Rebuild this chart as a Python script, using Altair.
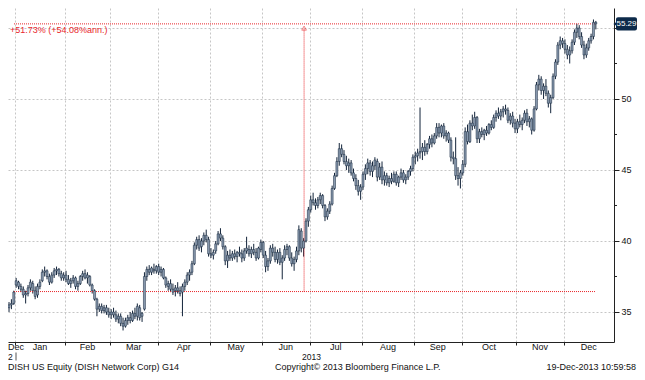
import altair as alt
import pandas as pd

# ---------------- data ----------------
# bars per month shown: Dec-2012 (last 4 sessions), Jan..Dec 2013 (to 19-Dec)
month_names = ["Jan", "Feb", "Mar", "Apr", "May", "Jun", "Jul", "Aug", "Sep", "Oct", "Nov", "Dec"]
month_trading_days = [21, 19, 20, 22, 22, 20, 22, 22, 20, 23, 20, 21]
first_bar_index = -4

opens = [
    35.6, 35.3, 35.5, 35.6,
    36.9, 37.1, 36.8, 36.6, 36.2, 36.3, 36.7, 37.0, 36.5, 36.2, 36.8, 37.2, 37.8, 37.9, 37.5, 37.1, 37.6, 37.9, 38.0, 37.7, 37.4,
    37.6, 37.3, 37.0, 37.2, 37.4, 36.8, 37.0, 37.5, 37.7, 37.4, 37.5, 36.9, 36.5, 35.9, 35.2, 35.4, 35.1, 35.3, 35.0,
    34.8, 35.0, 34.8, 34.5, 34.7, 34.2, 34.0, 34.4, 34.6, 34.4, 34.9, 34.7, 35.3, 34.7, 35.2, 37.5, 38.0, 37.8, 38.0, 37.9,
    38.2, 37.8, 38.0, 37.4, 36.8, 37.0, 36.6, 36.5, 36.7, 36.5, 36.4, 36.8, 37.1, 37.6, 37.8, 38.4, 39.7, 40.1, 39.6, 40.0, 40.4, 40.1,
    39.1, 39.0, 39.3, 39.8, 40.5, 40.2, 39.6, 38.6, 39.0, 38.8, 39.1, 38.9, 39.2, 39.1, 38.8, 39.3, 39.4, 39.1, 39.4, 39.2, 38.8, 39.4,
    39.9, 39.0, 38.2, 38.6, 39.5, 39.2, 38.7, 39.2, 38.5, 38.8, 39.4, 39.6, 38.8, 38.4, 38.7, 39.3, 40.7, 39.5, 40.0, 41.4,
    42.2, 42.9, 42.7, 42.5, 42.9, 43.2, 42.5, 41.7, 42.1, 42.6, 43.7, 44.6, 45.6, 46.5, 46.1, 45.6, 45.3, 45.5, 44.8, 44.4, 43.9, 43.5,
    43.8, 44.7, 45.1, 45.5, 44.9, 45.3, 45.6, 44.5, 45.2, 44.3, 44.6, 44.1, 44.4, 44.2, 44.7, 44.1, 44.5, 44.8, 44.3, 44.5, 44.9, 45.1,
    45.9, 46.0, 46.2, 46.3, 46.6, 46.3, 46.8, 47.2, 46.9, 47.4, 48.0, 47.6, 48.1, 47.4, 47.6, 47.1, 45.9, 45.8, 44.6, 44.4,
    44.8, 45.4, 47.7, 47.0, 48.3, 48.1, 48.7, 47.2, 47.7, 47.5, 47.8, 47.6, 48.2, 48.0, 48.7, 49.0, 48.8, 49.1, 49.3, 49.2, 48.5, 48.8, 48.3,
    47.9, 48.4, 48.2, 48.5, 49.0, 48.4, 48.6, 47.8, 49.3, 51.0, 51.4, 50.6, 50.9, 50.4, 49.7, 50.1, 51.6, 52.6, 53.8, 54.1,
    53.9, 53.5, 53.1, 53.4, 54.0, 54.7, 55.0, 54.4, 53.8, 53.1, 53.6, 54.1, 54.4, 55.4,
]
highs = [
    35.8, 35.7, 35.9, 36.5,
    37.4, 37.2, 37.0, 36.8, 36.5, 36.9, 37.3, 37.2, 36.8, 37.0, 37.3, 38.0, 38.2, 38.0, 37.7, 37.8, 38.1, 38.2, 38.1, 37.9, 37.8,
    37.9, 37.6, 37.4, 37.6, 37.5, 37.2, 37.6, 37.9, 38.0, 37.8, 37.6, 37.0, 36.6, 36.0, 35.6, 35.6, 35.5, 35.5, 35.3,
    35.2, 35.3, 35.1, 34.9, 34.9, 34.6, 34.6, 34.8, 35.0, 35.1, 35.3, 35.6, 35.5, 35.0, 37.8, 38.2, 38.3, 38.2, 38.4, 38.3,
    38.4, 38.2, 38.1, 37.5, 37.2, 37.3, 37.0, 36.9, 37.1, 36.8, 37.0, 37.3, 37.8, 38.0, 38.6, 39.9, 40.3, 40.4, 40.2, 40.6, 40.8, 40.3,
    39.5, 39.4, 40.0, 40.7, 40.9, 40.4, 39.7, 39.3, 39.4, 39.3, 39.4, 39.3, 39.6, 39.4, 39.5, 40.3, 39.7, 39.6, 39.8, 39.5, 39.6, 40.1,
    40.0, 39.3, 38.8, 39.7, 39.8, 39.6, 39.4, 39.5, 39.0, 39.7, 39.8, 39.7, 39.2, 38.9, 39.6, 41.1, 40.9, 40.2, 41.6, 42.4,
    43.2, 43.4, 43.0, 43.1, 43.4, 43.3, 42.6, 42.3, 42.8, 43.9, 44.8, 45.9, 46.9, 46.8, 46.4, 46.0, 45.8, 45.7, 45.1, 44.7, 44.3, 44.0,
    44.9, 45.4, 45.8, 45.7, 45.6, 45.9, 45.8, 45.5, 45.6, 44.9, 44.8, 44.6, 44.8, 44.9, 44.9, 44.6, 45.1, 45.0, 44.7, 45.0, 45.3, 46.1,
    46.3, 46.5, 49.4, 46.9, 47.1, 46.9, 47.4, 47.5, 47.6, 48.3, 48.3, 48.2, 48.3, 47.8, 47.7, 47.3, 46.3, 47.3, 45.2, 45.0,
    45.7, 48.0, 48.2, 48.5, 48.9, 49.1, 48.8, 47.9, 48.0, 47.9, 48.1, 48.3, 48.5, 48.9, 49.2, 49.4, 49.3, 49.5, 49.6, 49.4, 49.0, 49.1, 48.6,
    48.6, 48.9, 48.7, 49.2, 49.3, 48.8, 48.7, 49.5, 51.2, 51.7, 51.6, 51.1, 51.4, 50.6, 50.3, 51.8, 52.8, 54.0, 54.4, 54.3,
    54.2, 53.8, 53.7, 54.2, 54.9, 55.3, 55.2, 54.7, 54.1, 53.9, 54.3, 54.6, 55.6, 55.5,
]
lows = [
    35.1, 35.0, 35.2, 35.5,
    36.7, 36.6, 36.4, 36.0, 35.6, 36.1, 36.5, 36.3, 35.9, 36.0, 36.6, 37.1, 37.5, 37.3, 36.9, 37.0, 37.4, 37.6, 37.5, 37.2, 37.2,
    37.1, 36.9, 36.7, 37.0, 36.6, 36.5, 36.9, 37.2, 37.3, 37.0, 36.8, 36.3, 35.8, 34.7, 35.0, 34.9, 34.9, 34.8, 34.6,
    34.5, 34.6, 34.3, 34.2, 34.0, 33.7, 33.9, 34.1, 34.2, 34.3, 34.5, 34.4, 34.4, 34.3, 35.1, 37.2, 37.6, 37.6, 37.7, 37.7,
    37.6, 37.5, 37.3, 36.7, 36.5, 36.4, 36.2, 36.1, 36.3, 36.1, 34.7, 36.5, 36.9, 37.2, 37.6, 38.3, 39.4, 39.3, 39.2, 39.7, 39.9, 38.9,
    38.8, 38.7, 39.1, 39.7, 40.0, 39.4, 38.3, 38.1, 38.6, 38.6, 38.7, 38.5, 38.9, 38.5, 38.6, 39.1, 38.9, 38.8, 39.0, 38.6, 38.7, 39.2,
    38.8, 37.8, 37.9, 38.4, 38.9, 38.5, 38.4, 38.3, 37.3, 38.6, 39.0, 38.6, 38.2, 37.9, 38.5, 39.0, 39.2, 38.9, 39.9, 41.0,
    42.0, 42.5, 42.2, 42.3, 42.6, 42.3, 41.4, 41.5, 41.9, 42.5, 43.6, 44.5, 45.3, 45.9, 45.4, 45.0, 44.8, 44.6, 44.2, 43.6, 43.2, 42.9,
    43.6, 44.3, 44.7, 44.6, 44.5, 45.0, 44.2, 44.3, 44.0, 43.9, 43.9, 43.8, 44.0, 44.1, 43.9, 43.8, 44.3, 44.1, 44.0, 44.3, 44.6, 44.9,
    45.4, 45.6, 45.8, 45.7, 46.0, 46.1, 46.5, 46.6, 46.8, 47.2, 47.3, 47.3, 47.2, 47.0, 46.9, 45.6, 45.4, 44.3, 43.9, 43.7,
    44.6, 45.2, 46.8, 46.9, 47.8, 47.9, 46.9, 46.9, 47.3, 47.1, 47.4, 47.5, 47.8, 47.9, 48.4, 48.6, 48.5, 48.7, 48.9, 48.3, 48.2, 48.0, 47.6,
    47.6, 48.0, 47.8, 48.3, 48.1, 48.0, 47.5, 47.7, 49.2, 50.6, 50.3, 50.0, 50.2, 49.4, 49.0, 50.0, 51.4, 52.4, 53.5, 53.6,
    53.2, 52.8, 52.5, 53.2, 53.8, 54.3, 54.2, 53.6, 52.8, 52.9, 53.4, 53.9, 54.2, 54.9,
]
closes = [
    35.3, 35.5, 35.6, 36.4,
    37.2, 36.8, 36.6, 36.2, 36.3, 36.7, 37.1, 36.5, 36.1, 36.8, 37.1, 37.8, 37.9, 37.5, 37.1, 37.6, 37.9, 38.0, 37.7, 37.4, 37.6,
    37.3, 37.0, 37.2, 37.4, 36.8, 37.0, 37.5, 37.7, 37.4, 37.6, 36.9, 36.5, 35.9, 35.2, 35.4, 35.1, 35.3, 35.0, 34.8,
    35.0, 34.8, 34.5, 34.7, 34.2, 34.0, 34.4, 34.6, 34.4, 34.9, 34.7, 35.4, 34.6, 34.9, 37.5, 38.0, 37.8, 38.1, 37.9, 38.2,
    37.8, 38.0, 37.4, 36.9, 37.0, 36.6, 36.4, 36.7, 36.5, 36.3, 36.8, 37.1, 37.6, 37.8, 38.4, 39.7, 40.1, 39.5, 40.0, 40.4, 40.1, 39.1,
    39.0, 39.2, 39.8, 40.5, 40.2, 39.6, 38.6, 39.0, 38.8, 39.1, 38.9, 39.2, 39.1, 38.8, 39.3, 39.5, 39.1, 39.4, 39.2, 38.8, 39.5, 39.9,
    39.0, 38.2, 38.6, 39.5, 39.2, 38.7, 39.2, 38.5, 38.8, 39.4, 39.6, 38.8, 38.4, 38.7, 39.3, 40.8, 39.5, 40.0, 41.4, 42.2,
    42.9, 42.7, 42.5, 42.9, 43.2, 42.5, 41.7, 42.1, 42.6, 43.7, 44.6, 45.6, 46.5, 46.1, 45.6, 45.3, 45.5, 44.8, 44.4, 43.9, 43.5, 43.8,
    44.7, 45.1, 45.5, 44.9, 45.3, 45.7, 44.5, 45.2, 44.3, 44.6, 44.1, 44.4, 44.2, 44.7, 44.1, 44.5, 44.8, 44.3, 44.5, 44.9, 45.1, 45.9,
    46.0, 46.2, 46.3, 46.6, 46.3, 46.8, 47.2, 46.9, 47.4, 48.0, 47.6, 48.1, 47.4, 47.6, 47.1, 45.9, 45.8, 44.6, 44.4, 44.8,
    45.4, 47.7, 47.0, 48.3, 48.1, 48.7, 47.2, 47.7, 47.5, 47.8, 47.6, 48.2, 48.0, 48.7, 49.0, 48.8, 49.1, 49.3, 49.2, 48.5, 48.8, 48.3, 47.9,
    48.4, 48.2, 48.5, 49.0, 48.4, 48.6, 47.8, 49.3, 51.0, 51.4, 50.6, 50.9, 50.4, 49.7, 50.1, 51.6, 52.6, 53.8, 54.1, 53.9,
    53.5, 53.1, 53.4, 54.0, 54.7, 55.0, 54.4, 53.8, 53.1, 53.6, 54.1, 54.4, 55.4, 55.29,
]

y_ticks = [35, 40, 45, 50, 55]
y_minor = [37.5, 42.5, 47.5, 52.5]
ann_start_value = 36.44
ann_end_value = 55.29
ann_marker_index = 121.2
ann_line_end_index = 243.7
ann_text = "+51.73% (+54.08%ann.)"
last_label = "55.29"
footer_left = "DISH US Equity (DISH Network Corp) G14"
footer_mid = "Copyright\u00a9 2013 Bloomberg Finance L.P."
footer_right = "19-Dec-2013 10:59:58"

# ---------------- frames ----------------
n = len(closes)
df = pd.DataFrame({
    "i": list(range(first_bar_index, first_bar_index + n)),
    "o": opens, "h": highs, "l": lows, "c": closes,
})

bounds = [-0.5]
for d in month_trading_days:
    bounds.append(bounds[-1] + d)
month_df = pd.DataFrame({
    "name": month_names,
    "pos": [(bounds[k] + bounds[k + 1]) / 2 for k in range(12)],
})
grid_bounds = bounds[:12]

FONT = "Liberation Sans"
GRID = "#c6c6c6"
AX = "#222222"
RED = "#e8262b"
NAVY = "#0d2a4a"
TXT = "#111111"

W, H = 606, 334          # plot area
PAD_R, PAD_B = 23, 30    # whole chart 629 x 364, fits inside the page margins

MONTH_Y, YEAR_Y, FOOT_Y = 342, 351.5, 362

x_scale = alt.Scale(domain=[-1.325, 249.54], nice=False, zero=False)
y_scale = alt.Scale(domain=[32.887, 56.408], nice=False, zero=False)


def X(field):
    return alt.X(field, scale=x_scale, title=None)


def Y(field):
    return alt.Y(field, scale=y_scale, title=None)


wick = alt.Chart(df).mark_rule(color="#13243a", strokeWidth=1, clip=True).encode(
    x=alt.X("i:Q", scale=x_scale, title=None, axis=alt.Axis(
        values=grid_bounds, labels=False, ticks=True, tickSize=3, tickColor=AX,
        domainColor=AX, grid=True, gridDash=[2, 2], gridColor=GRID, title=None)),
    y=alt.Y("l:Q", scale=y_scale, title=None, axis=alt.Axis(
        orient="right", values=y_ticks,
        labelExpr="datum.value == 55 ? '' : datum.label",
        tickSize=5, tickColor=AX, domainColor=AX, grid=True, gridDash=[2, 2],
        gridColor=GRID, labelFont=FONT, labelFontSize=9, labelColor=TXT,
        labelPadding=2, title=None)),
    y2="h:Q",
)

body = alt.Chart(df).mark_bar(size=2, fill="#8a9bb0", stroke="#13243a",
                              strokeWidth=0.5, clip=True).encode(
    x=X("i:Q"), y=Y("o:Q"), y2="c:Q",
)

hlines_df = pd.DataFrame({"x": [-0.9, -0.9], "x2": [ann_line_end_index] * 2,
                          "y": [ann_start_value, ann_end_value]})
hlines = alt.Chart(hlines_df).mark_rule(color=RED, strokeDash=[1, 1], strokeWidth=1, clip=True).encode(
    x=X("x:Q"), x2="x2:Q", y=Y("y:Q"),
)
vline_df = pd.DataFrame({"x": [ann_marker_index], "y": [ann_start_value], "y2": [ann_end_value - 0.3]})
vline = alt.Chart(vline_df).mark_rule(color=RED, strokeDash=[1, 1], strokeWidth=1).encode(
    x=X("x:Q"), y=Y("y:Q"), y2="y2:Q",
)
arrow = alt.Chart(vline_df).mark_point(shape="triangle-up", filled=False, color=RED,
                                       size=22, strokeWidth=0.8).encode(
    x=X("x:Q"), y=Y("y2:Q"),
)
ann_label = alt.Chart(pd.DataFrame({"t": [ann_text], "y": [ann_end_value]})).mark_text(
    align="left", baseline="top", dy=2, font=FONT, fontSize=9, color=RED).encode(
    x=alt.value(2), y=Y("y:Q"), text="t:N")

minor = alt.Chart(pd.DataFrame({"y": y_minor})).mark_rule(color=AX, strokeWidth=1).encode(
    x=alt.value(W), x2=alt.value(W + 3), y=Y("y:Q"))

badge_df = pd.DataFrame({"y": [ann_end_value + 0.46], "y2": [ann_end_value - 0.46],
                         "v": [ann_end_value], "t": [last_label]})
badge = alt.Chart(badge_df).mark_rect(color=NAVY, cornerRadius=2).encode(
    x=alt.value(W + 2), x2=alt.value(W + PAD_R), y=Y("y:Q"), y2="y2:Q")
badge_tip = alt.Chart(badge_df).mark_point(shape="triangle-left", filled=True, color=NAVY,
                                           size=26, opacity=1).encode(
    x=alt.value(W + 1.5), y=Y("v:Q"))
badge_text = alt.Chart(badge_df).mark_text(font=FONT, fontSize=8, color="white",
                                           align="center", baseline="middle").encode(
    x=alt.value(W + 2 + (PAD_R - 2) / 2), y=Y("v:Q"), text="t:N")

months = alt.Chart(month_df).mark_text(font=FONT, fontSize=9, color=TXT,
                                       baseline="alphabetic").encode(
    x=X("pos:Q"), y=alt.value(MONTH_Y), text="name:N")
dec12 = alt.Chart(pd.DataFrame({"t": ["Dec"]})).mark_text(
    font=FONT, fontSize=9, color=TXT, align="left", baseline="alphabetic").encode(
    x=alt.value(0), y=alt.value(MONTH_Y), text="t:N")

year_df = pd.DataFrame({"t": ["2013"], "pos": [bounds[6]]})
year13 = alt.Chart(year_df).mark_text(font=FONT, fontSize=8.5, color=TXT,
                                      baseline="alphabetic", dx=2).encode(
    x=X("pos:Q"), y=alt.value(YEAR_Y), text="t:N")
# the reference is cropped so only the last digit of "2012" shows
year12 = alt.Chart(pd.DataFrame({"t": ["2"]})).mark_text(
    font=FONT, fontSize=8.5, color=TXT, align="left", baseline="alphabetic").encode(
    x=alt.value(0), y=alt.value(YEAR_Y), text="t:N")
sep = alt.Chart(pd.DataFrame({"t": [1]})).mark_rule(color="#555555", strokeWidth=1).encode(
    x=alt.value(8), y=alt.value(YEAR_Y - 7), y2=alt.value(YEAR_Y + 1))

foot_l = alt.Chart(pd.DataFrame({"t": [footer_left]})).mark_text(
    font=FONT, fontSize=9, color=TXT, align="left", baseline="alphabetic").encode(
    x=alt.value(0), y=alt.value(FOOT_Y), text="t:N")
foot_m = alt.Chart(pd.DataFrame({"t": [footer_mid]})).mark_text(
    font=FONT, fontSize=9, color=TXT, align="left", baseline="alphabetic").encode(
    x=alt.value(267), y=alt.value(FOOT_Y), text="t:N")
foot_r = alt.Chart(pd.DataFrame({"t": [footer_right]})).mark_text(
    font=FONT, fontSize=9, color=TXT, align="right", baseline="alphabetic").encode(
    x=alt.value(W + PAD_R - 1), y=alt.value(FOOT_Y), text="t:N")

chart = alt.layer(
    wick, hlines, vline, arrow, body, ann_label, minor, badge, badge_tip, badge_text,
    months, dec12, year13, year12, sep, foot_l, foot_m, foot_r,
).properties(
    width=W, height=H, autosize="none",
    padding={"left": 0, "top": 0, "right": PAD_R, "bottom": PAD_B},
    background="white",
).configure_view(stroke=None)

chart.save("out.html", embed_options={"renderer": "svg", "actions": False})
